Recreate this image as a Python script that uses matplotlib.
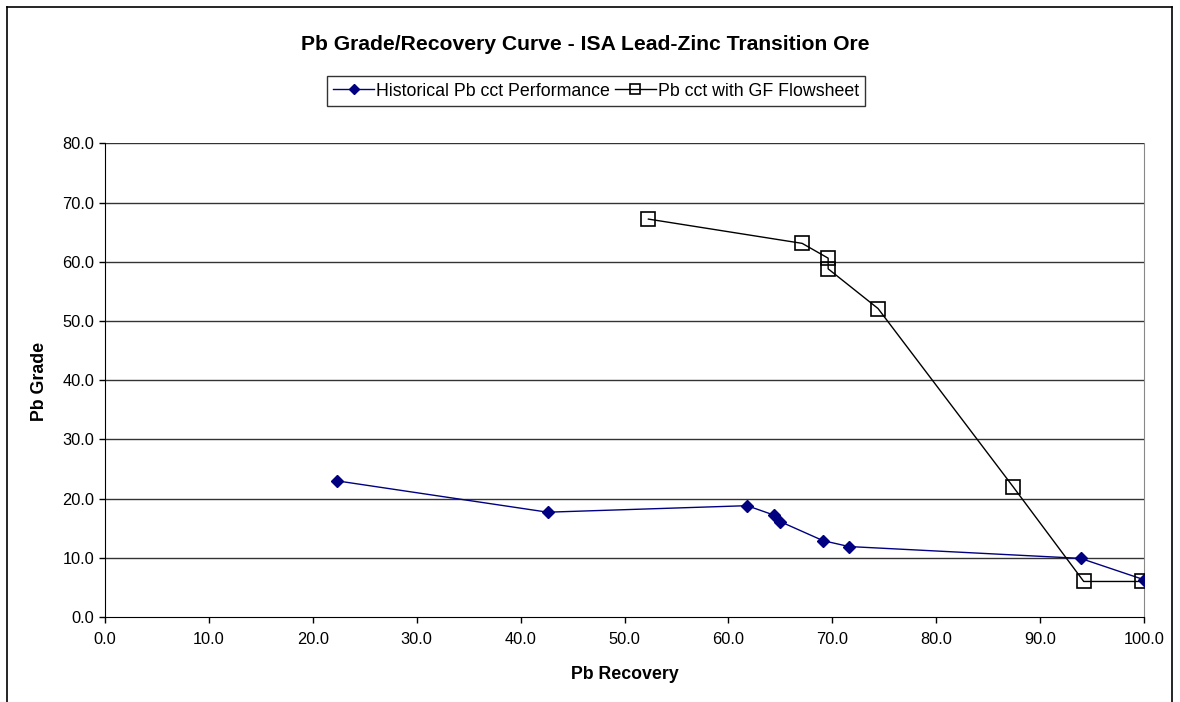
import matplotlib
matplotlib.use("Agg")
import matplotlib.pyplot as plt
from matplotlib.lines import Line2D

plt.rcParams['font.family'] = ['Liberation Sans', 'DejaVu Sans']

# Data
hist_recovery = [22.3, 42.6, 61.8, 64.4, 65.0, 69.1, 71.6, 93.9, 100.0]
hist_grade = [23.0, 17.7, 18.8, 17.2, 16.1, 12.9, 11.9, 9.9, 6.3]
gf_recovery = [52.3, 67.1, 69.6, 69.6, 74.4, 87.4, 94.2, 99.8]
gf_grade = [67.2, 63.1, 60.6, 58.8, 52.1, 22.0, 6.0, 6.0]
x_ticks = [0, 10, 20, 30, 40, 50, 60, 70, 80, 90, 100]
y_ticks = [0, 10, 20, 30, 40, 50, 60, 70, 80]

W, H = 1180, 702
fig = plt.figure(figsize=(W / 100, H / 100), dpi=100)
fig.patch.set_facecolor('white')

# outer chart border (open at bottom)
fig.add_artist(Line2D([7 / W, 7 / W], [0, 1 - 7 / H], transform=fig.transFigure, color='black', lw=1.2))
fig.add_artist(Line2D([7 / W, 1172 / W], [1 - 7 / H, 1 - 7 / H], transform=fig.transFigure, color='black', lw=1.2))
fig.add_artist(Line2D([1172 / W, 1172 / W], [0, 1 - 7 / H], transform=fig.transFigure, color='black', lw=1.2))

ax = fig.add_axes([105 / W, 1 - 617 / H, (1144 - 105) / W, (617 - 143.3) / H])
ax.set_xlim(0, 100)
ax.set_ylim(0, 80)

for yv in y_ticks[1:]:
    ax.axhline(yv, color='#333333', lw=1.0, zorder=1)

l1, = ax.plot(hist_recovery, hist_grade, color='#000080', lw=1.0, marker='D',
              markersize=6.5, markerfacecolor='#000080', markeredgecolor='#000080',
              zorder=3, label='Historical Pb cct Performance')
l2, = ax.plot(gf_recovery, gf_grade, color='black', lw=1.0, marker='s',
              markersize=9.5, markerfacecolor='none', markeredgecolor='black',
              markeredgewidth=1.2, zorder=4, label='Pb cct with GF Flowsheet')

ax.set_xticks(x_ticks)
ax.set_yticks(y_ticks)
ax.set_xticklabels([f"{v:.1f}" for v in x_ticks], fontsize=11.8)
ax.set_yticklabels([f"{v:.1f}" for v in y_ticks], fontsize=11.8)
ax.tick_params(direction='out', length=4.5, width=1, color='black', pad=3)
ax.tick_params(axis='x', pad=6)

ax.spines['top'].set_visible(False)
ax.spines['right'].set_color('#888888')
ax.spines['left'].set_color('black')
ax.spines['bottom'].set_color('black')

ax.set_xlabel('Pb Recovery', fontsize=12.8, fontweight='bold', labelpad=14)
fig.text(40 / W, 1 - 381 / H, 'Pb Grade', rotation=90, fontsize=12.8,
         fontweight='bold', ha='center', va='center')

fig.text(585 / W, 1 - 45 / H, 'Pb Grade/Recovery Curve - ISA Lead-Zinc Transition Ore',
         fontsize=15.2, fontweight='bold', ha='center', va='center')

leg = fig.legend(handles=[l1, l2], loc='center', bbox_to_anchor=(596 / W, 1 - 91 / H),
                 ncol=2, frameon=True, fancybox=False, edgecolor='black',
                 fontsize=12.8, handlelength=2.3, handletextpad=0.1,
                 columnspacing=0.3, borderpad=0.35, markerscale=0.8)
leg.get_frame().set_linewidth(1.0)

fig.savefig('out.png', dpi=100, facecolor='white')
